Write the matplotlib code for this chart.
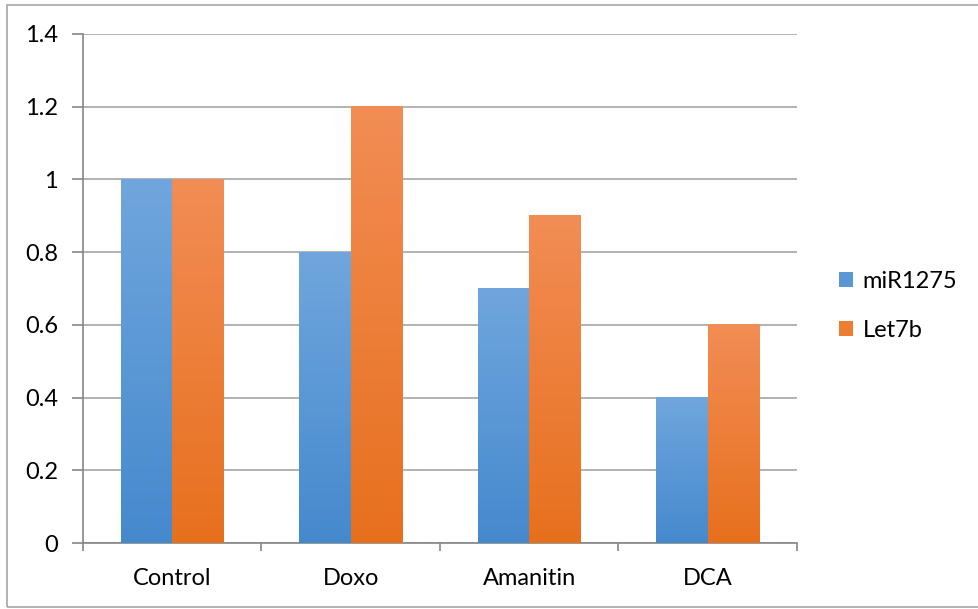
import numpy as np
import matplotlib
matplotlib.use("Agg")
import matplotlib.pyplot as plt
from matplotlib.colors import LinearSegmentedColormap
from matplotlib.patches import Rectangle

plt.rcParams['font.family'] = ['Lato', 'DejaVu Sans']

categories = ["Control", "Doxo", "Amanitin", "DCA"]
mir1275 = [1.0, 0.8, 0.7, 0.4]
let7b = [1.0, 1.2, 0.9, 0.6]
series_names = ["miR1275", "Let7b"]
yticks = [0, 0.2, 0.4, 0.6, 0.8, 1, 1.2, 1.4]

# top / bottom colours of each series' vertical gradient
blue_cmap = LinearSegmentedColormap.from_list("blue", ["#4589CD", "#70A6DD"])
orange_cmap = LinearSegmentedColormap.from_list("orange", ["#E7701D", "#F28D55"])

fig = plt.figure(figsize=(9.79, 6.09), dpi=100)
fig.patches.append(Rectangle((7 / 979, 2 / 609), 1.0, 602 / 609, transform=fig.transFigure,
                             fill=False, edgecolor="#A6A6A6", linewidth=1.2))
ax = fig.add_axes([83 / 979, 66 / 609, 714 / 979, 509 / 609])

x = np.arange(len(categories))
w = 0.289
bars1 = ax.bar(x - w / 2, mir1275, w, color="none", zorder=3)
bars2 = ax.bar(x + w / 2, let7b, w, color="none", zorder=3)

grad = np.linspace(0, 1, 256).reshape(-1, 1)
for bars, cmap in ((bars1, blue_cmap), (bars2, orange_cmap)):
    for p in bars:
        x0, y0 = p.get_x(), p.get_y()
        ax.imshow(grad, cmap=cmap, origin="lower", aspect="auto", zorder=3,
                  extent=(x0, x0 + p.get_width(), y0, y0 + p.get_height()))

ax.set_xlim(-0.5, len(categories) - 0.5)
ax.set_ylim(0, 1.4)
ax.set_yticks(yticks)
ax.set_yticklabels(["0", "0.2", "0.4", "0.6", "0.8", "1", "1.2", "1.4"])
ax.yaxis.grid(True, color="#A6A6A6", linewidth=1.2, zorder=0)
ax.set_axisbelow(True)

# category labels centered, tick marks on the category boundaries
ax.set_xticks(x)
ax.set_xticklabels(categories)
ax.tick_params(axis="x", which="major", length=0, pad=18, labelsize=17)
ax.set_xticks(np.arange(len(categories) + 1) - 0.5, minor=True)
ax.tick_params(axis="x", which="minor", length=6, width=1.2, color="#868686")
ax.tick_params(axis="y", length=8, width=1.2, color="#868686", pad=10, labelsize=17)

for side in ("top", "right"):
    ax.spines[side].set_visible(False)
for side in ("left", "bottom"):
    ax.spines[side].set_color("#868686")
    ax.spines[side].set_linewidth(1.2)

handles = [Rectangle((0, 0), 1, 1, facecolor="#5B97D5"),
           Rectangle((0, 0), 1, 1, facecolor="#ED7D31")]
fig.legend(handles, series_names, loc="center left", bbox_to_anchor=(818 / 979, 1 - 306 / 609),
           frameon=False, fontsize=17, handlelength=0.6, handleheight=0.6,
           handletextpad=0.4, labelspacing=1.2)

fig.savefig("out.png", dpi=100)
